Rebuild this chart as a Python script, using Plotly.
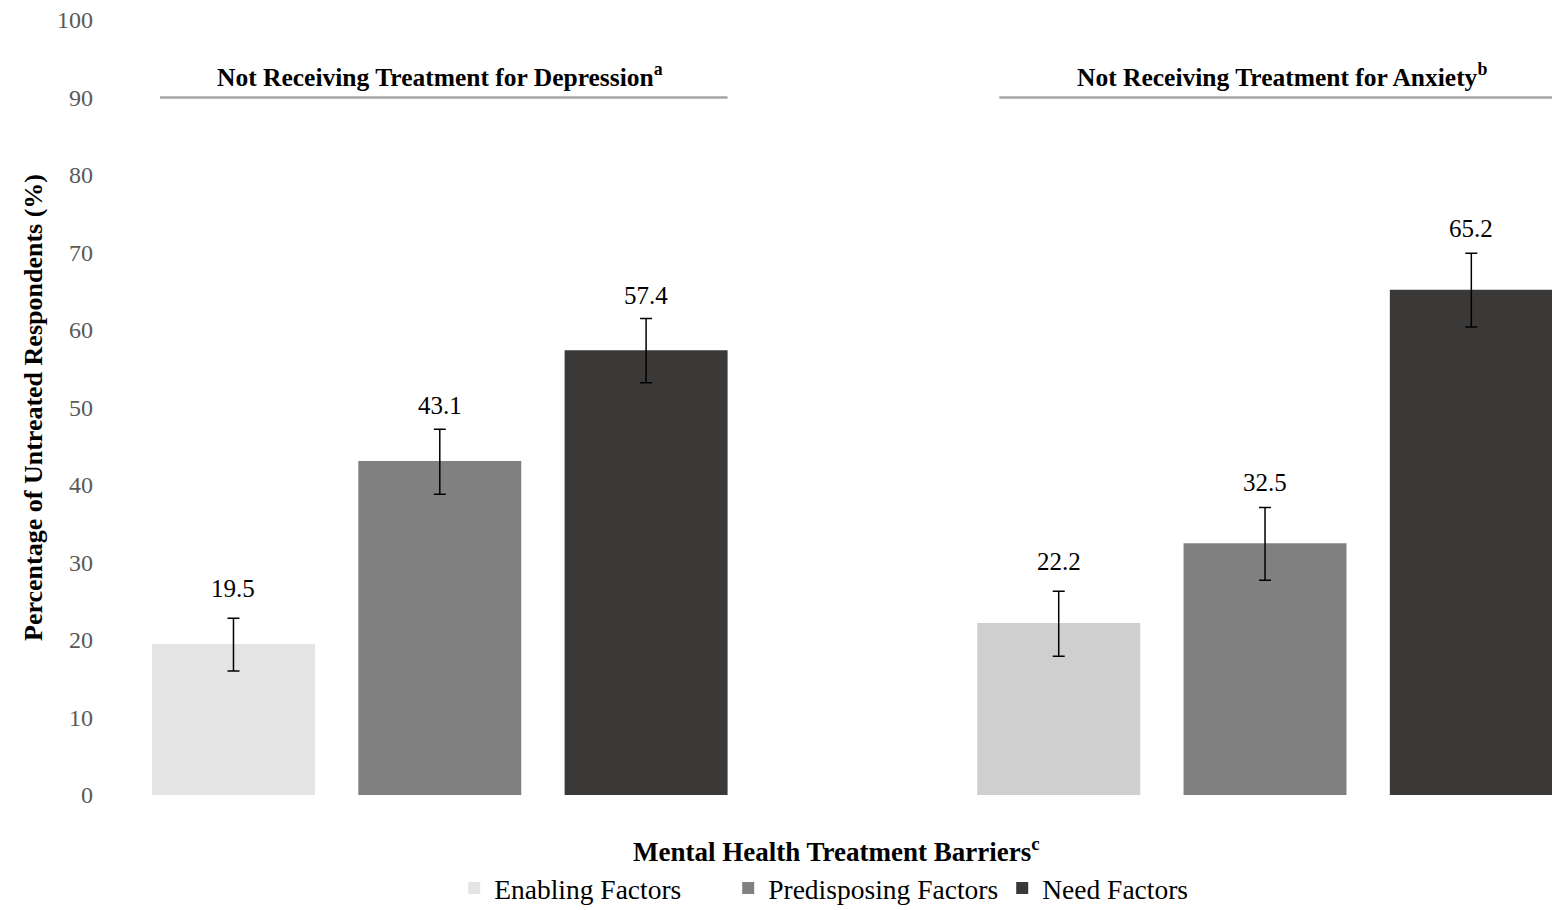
import plotly.graph_objects as go

# Survey groups and barrier categories
groups = ["Not Receiving Treatment for Depression", "Not Receiving Treatment for Anxiety"]
group_marks = ["a", "b"]
factors = ["Enabling Factors", "Predisposing Factors", "Need Factors"]

# Percentages per factor: [depression, anxiety]
enabling = [19.5, 22.2]
predisposing = [43.1, 32.5]
need = [57.4, 65.2]

# Upper / lower error bar lengths per factor: [depression, anxiety]
enabling_err_plus = [3.3, 4.1]
enabling_err_minus = [3.5, 4.3]
predisposing_err_plus = [4.1, 4.6]
predisposing_err_minus = [4.3, 4.8]
need_err_plus = [4.1, 4.7]
need_err_minus = [4.2, 4.8]

y_ticks = [0, 10, 20, 30, 40, 50, 60, 70, 80, 90, 100]

values = [enabling, predisposing, need]
err_plus = [enabling_err_plus, predisposing_err_plus, need_err_plus]
err_minus = [enabling_err_minus, predisposing_err_minus, need_err_minus]
colors = [["#e4e4e4", "#d0cfcf"], ["#808080", "#808080"], ["#3a3938", "#3a3938"]]

FONT = "Liberation Serif"
SLOTS_PER_GROUP = 4  # three bars plus one empty slot between groups
BAR_WIDTH = 0.79
X_RANGE = [-0.647, 6.391]

fig = go.Figure()
annotations = []
for i, name in enumerate(factors):
    xs = [g * SLOTS_PER_GROUP + i for g in range(len(groups))]
    fig.add_trace(go.Bar(
        x=xs, y=values[i], name=name, width=BAR_WIDTH,
        marker=dict(color=colors[i], line=dict(width=0)),
        error_y=dict(type="data", symmetric=False, array=err_plus[i],
                     arrayminus=err_minus[i], color="#000000",
                     thickness=1.5, width=6),
        hoverinfo="skip",
    ))
    for g, (x, v) in enumerate(zip(xs, values[i])):
        annotations.append(dict(
            x=x, y=v, xref="x", yref="y", text=f"{v:.1f}", showarrow=False,
            yanchor="middle", yshift=55 if g == 0 else 61,
            font=dict(family=FONT, size=25, color="#000000"),
        ))

# Group headers with an underline rule
shapes = []
header_spans = [(-0.356, 2.395), (3.712, 6.40)]
header_centers = [1.0, 5.08]
for g, name in enumerate(groups):
    x0, x1 = header_spans[g]
    shapes.append(dict(type="line", xref="x", yref="y", x0=x0, x1=x1, y0=90, y1=90,
                       line=dict(color="#a6a6a6", width=2.5)))
    annotations.append(dict(
        x=header_centers[g], y=90, xref="x", yref="y",
        text=f"<b>{name}<sup>{group_marks[g]}</sup></b>", showarrow=False,
        yanchor="bottom", yshift=3,
        font=dict(family=FONT, size=25.5, color="#000000"),
    ))

# Horizontal axis caption below the bars
annotations.append(dict(
    x=0.507, y=-0.071, xref="paper", yref="paper", xanchor="center", yanchor="middle",
    text="<b>Mental Health Treatment Barriers<sup>c</sup></b>", showarrow=False,
    font=dict(family=FONT, size=27, color="#000000"),
))

fig.update_layout(
    width=1552, height=910,
    margin=dict(l=100, r=0, t=20, b=115, autoexpand=False),
    paper_bgcolor="#ffffff", plot_bgcolor="#ffffff",
    barmode="overlay",
    font=dict(family=FONT, size=24, color="#000000"),
    showlegend=True,
    legend=dict(orientation="h", x=0.527, xanchor="center",
                yref="container", y=0.024, yanchor="middle",
                entrywidth=229, entrywidthmode="pixels",
                font=dict(family=FONT, size=27.5, color="#000000"),
                itemclick=False, itemdoubleclick=False),
    annotations=annotations,
    shapes=shapes,
    xaxis=dict(range=X_RANGE, showticklabels=False, showgrid=False, automargin=False,
               zeroline=False, showline=False, ticks=""),
    yaxis=dict(range=[0, 100], tickvals=y_ticks, showgrid=False, zeroline=False,
               showline=False, ticks="", ticklabelstandoff=6, automargin=False,
               tickfont=dict(family=FONT, size=24, color="#595959"),
               title=dict(text="<b>Percentage of Untreated Respondents (%)</b>",
                          font=dict(family=FONT, size=26, color="#000000"), standoff=6)),
)

fig.write_html("out.html")
